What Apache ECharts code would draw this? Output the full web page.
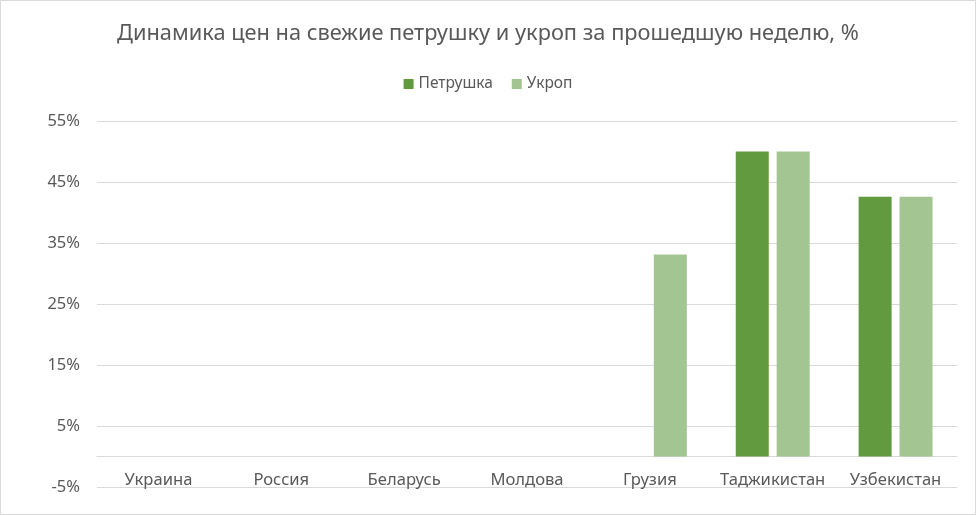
<!DOCTYPE html>
<html><head><meta charset="utf-8">
<script src="https://cdn.jsdelivr.net/npm/echarts@6/dist/echarts.min.js"></script>
<style>html,body{margin:0;padding:0;background:#fff}#c{width:976px;height:515px}</style>
</head><body><div id="c"></div>
<script>
const categories = ['Украина','Россия','Беларусь','Молдова','Грузия','Таджикистан','Узбекистан'];
const petrushka = [0,0,0,0,0,50,42.6];
const ukrop = [0,0,0,0,33.1,50,42.6];
const yTicks = [-5,5,15,25,35,45,55];

const chart = echarts.init(document.getElementById('c'));
const font = 'Noto Sans';
chart.setOption({
  animation:false,
  backgroundColor:'#fff',
  title:{text:'Динамика цен на свежие петрушку и укроп за прошедшую неделю, %',left:'center',top:18,
    textStyle:{fontFamily:font,fontSize:21.8,fontWeight:'normal',color:'#595959'}},
  legend:{top:71,left:'center',itemWidth:10,itemHeight:10,itemGap:19,icon:'rect',
    textStyle:{fontFamily:font,fontSize:15.5,color:'#595959'}},
  grid:{left:97,right:19,top:121,bottom:28},
  xAxis:{type:'category',data:categories,
    axisLine:{onZero:true,lineStyle:{color:'#d9d9d9'}},axisTick:{show:false},
    axisLabel:{interval:0,hideOverlap:false,margin:2,verticalAlign:'bottom',fontFamily:font,fontSize:16.6,color:'#595959'}},
  yAxis:{type:'value',min:yTicks[0],max:yTicks[yTicks.length-1],interval:10,
    axisLabel:{formatter:v=>v+'%',fontFamily:font,fontSize:16.5,color:'#595959',margin:17},
    splitLine:{lineStyle:{color:'#d9d9d9'}},axisLine:{show:false},axisTick:{show:false}},
  series:[
    {name:'Петрушка',type:'bar',data:petrushka,barWidth:33,barGap:'24%',itemStyle:{color:'#629A3F'}},
    {name:'Укроп',type:'bar',data:ukrop,barWidth:33,barGap:'24%',itemStyle:{color:'#A3C592'}}
  ],
  graphic:[{type:'rect',shape:{x:0.5,y:0.5,width:975,height:514},style:{fill:null,stroke:'#d9d9d9',lineWidth:1},silent:true}]
});
</script></body></html>
